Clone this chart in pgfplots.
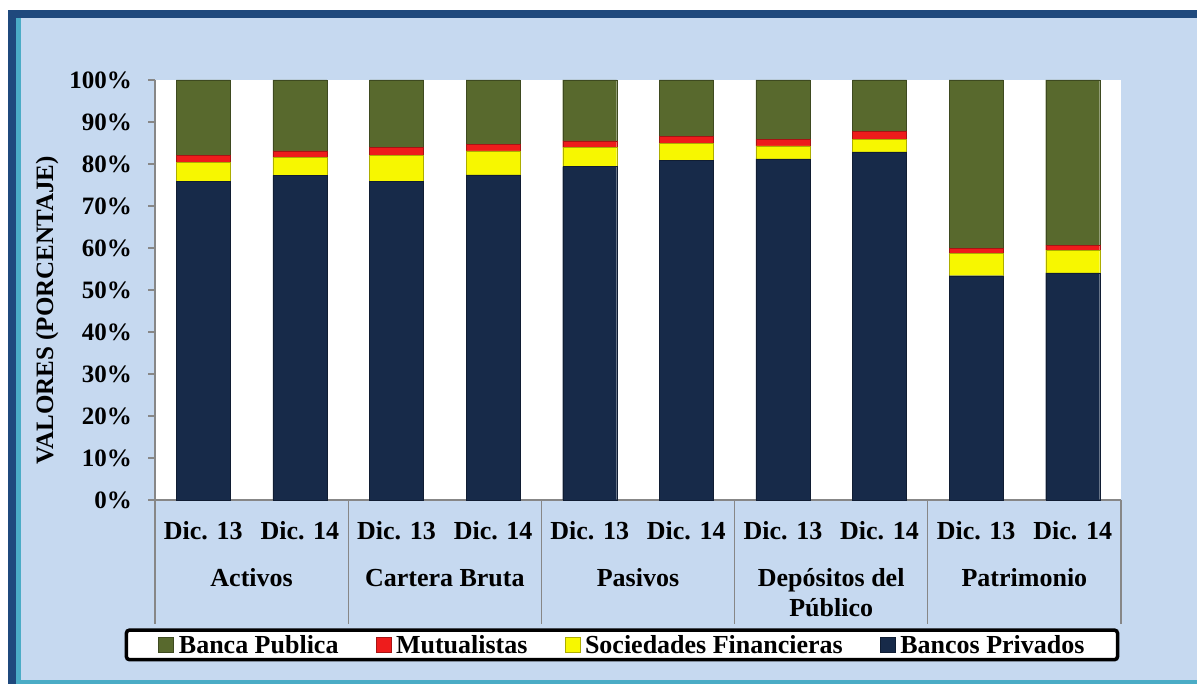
\documentclass[border=0pt]{standalone}
\usepackage{pgfplots}
\pgfplotsset{compat=1.18}
\usepackage{pgfplotstable}
\usepackage{fontspec}
\setmainfont{Liberation Serif}
\definecolor{bgblue}{HTML}{C6D9F0}
\definecolor{frameblue}{HTML}{1F497D}
\definecolor{framecyan}{HTML}{4BACC6}
\definecolor{navyb}{HTML}{172A49}
\definecolor{greenb}{HTML}{58692D}
\definecolor{yellowb}{HTML}{F7F700}
\definecolor{redb}{HTML}{EE1C1C}
\definecolor{axgray}{HTML}{878787}

\pgfplotstableread{
x priv soc mut pub
0 75.8 4.6 1.6 18.0
1 77.3 4.2 1.6 16.9
2 75.8 6.3 1.8 16.1
3 77.4 5.7 1.6 15.3
4 79.4 4.5 1.6 14.5
5 80.8 4.1 1.6 13.5
6 81.2 3.1 1.6 14.1
7 82.9 3.0 1.8 12.3
8 53.4 5.3 1.2 40.1
9 54.1 5.4 1.2 39.3
}\datatable

\newcommand{\tkfont}{\fontsize{25}{29}\selectfont\bfseries}
\newcommand{\xfont}{\fontsize{26}{30}\selectfont\bfseries}

\begin{document}
\begin{tikzpicture}[x=1pt,y=1pt]
\useasboundingbox (0,0) rectangle (1197,684);
\fill[white] (0,0) rectangle (1197,684);
\fill[bgblue] (8,0) rectangle (1197,674);
\fill[frameblue] (8,666) rectangle (1197,674);
\fill[frameblue] (8,0) rectangle (16,674);
\fill[framecyan] (16,4) rectangle (21,666);
\fill[framecyan] (16,0) rectangle (1197,4);
\begin{axis}[
  at={(155pt,184pt)}, anchor=south west,
  scale only axis, width=966pt, height=420pt,
  xmin=-0.5, xmax=9.5, ymin=0, ymax=100,
  ybar stacked, bar width=54pt,
  axis background/.style={fill=white},
  axis lines*=left,
  axis line style={axgray, line width=1.2pt},
  ytick={0,10,...,100},
  yticklabels={0\%,10\%,20\%,30\%,40\%,50\%,60\%,70\%,80\%,90\%,100\%},
  xtick={0,...,9},
  xticklabels={Dic. 13,Dic. 14,Dic. 13,Dic. 14,Dic. 13,Dic. 14,Dic. 13,Dic. 14,Dic. 13,Dic. 14},
  x tick style={draw=none},
  y tick style={axgray, line width=1.2pt},
  xtick align=inside, ytick align=outside,
  major tick length=7pt,
  yticklabel style={font=\tkfont, anchor=east, inner sep=0pt, xshift=-16pt},
  xticklabel style={font=\xfont, anchor=base, inner sep=0pt, yshift=-40pt},
  ylabel={VALORES (PORCENTAJE)},
  ylabel style={font=\tkfont, at={(axis description cs:-0.1118,0.452)}, anchor=center},
  clip=false,
  legend columns=4,
  reverse legend,
  legend image code/.code={\draw[#1, line width=0.5pt, rounded corners=0pt] (0pt,-7.5pt) rectangle (15pt,7.5pt);},
  legend style={
    at={(axis description cs:0.4834,-0.345)}, anchor=center,
    draw=black, line width=3.5pt, rounded corners=3pt, fill=white,
    inner xsep=32pt, inner ysep=4pt,
    font=\xfont,
    /tikz/every odd column/.append style={column sep=4pt},
    /tikz/every even column/.append style={column sep=36pt},
    nodes={inner sep=1pt},
  },
]
\addplot[fill=navyb, draw=navyb!70!black] table[x=x,y=priv]{\datatable};
\addlegendentry{Bancos Privados}
\addplot[fill=yellowb, draw=yellowb!70!black] table[x=x,y=soc]{\datatable};
\addlegendentry{Sociedades Financieras}
\addplot[fill=redb, draw=redb!70!black] table[x=x,y=mut]{\datatable};
\addlegendentry{Mutualistas}
\addplot[fill=greenb, draw=greenb!70!black] table[x=x,y=pub]{\datatable};
\addlegendentry{Banca Publica}

\draw[axgray, line width=1.2pt] (axis cs:-0.5,0) -- ++(0pt,-124pt);
\draw[axgray, line width=1.2pt] (axis cs:1.5,0) -- ++(0pt,-124pt);
\draw[axgray, line width=1.2pt] (axis cs:3.5,0) -- ++(0pt,-124pt);
\draw[axgray, line width=1.2pt] (axis cs:5.5,0) -- ++(0pt,-124pt);
\draw[axgray, line width=1.2pt] (axis cs:7.5,0) -- ++(0pt,-124pt);
\draw[axgray, line width=1.2pt] (axis cs:9.5,0) -- ++(0pt,-124pt);

\node[font=\xfont, anchor=base, yshift=-87pt] at (axis cs:0.5,0) {Activos};
\node[font=\xfont, anchor=base, yshift=-87pt] at (axis cs:2.5,0) {Cartera Bruta};
\node[font=\xfont, anchor=base, yshift=-87pt] at (axis cs:4.5,0) {Pasivos};
\node[font=\xfont, anchor=base, yshift=-87pt] at (axis cs:6.5,0) {Depósitos del};
\node[font=\xfont, anchor=base, yshift=-117pt] at (axis cs:6.5,0) {Público};
\node[font=\xfont, anchor=base, yshift=-87pt] at (axis cs:8.5,0) {Patrimonio};
\end{axis}
\end{tikzpicture}
\end{document}
